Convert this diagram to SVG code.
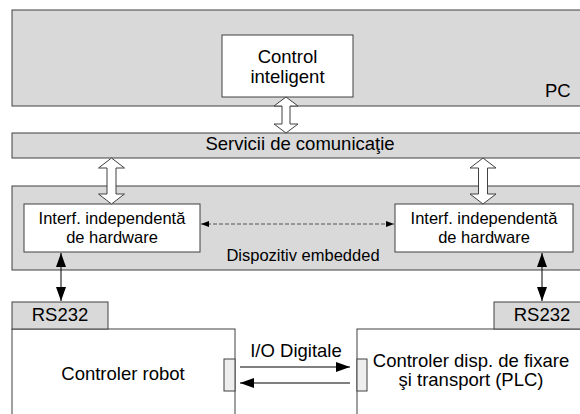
<svg xmlns="http://www.w3.org/2000/svg" width="580" height="414" viewBox="0 0 580 414">
<style>
text{font-family:"Liberation Sans",Arial,sans-serif;fill:#000}
.g{fill:#d9d9d9;stroke:#404040;stroke-width:1}
.w{fill:#fff;stroke:#404040;stroke-width:1}
.c{fill:#eeeeee;stroke:#404040;stroke-width:1}
.t{font-size:18.5px}
.s{font-size:16.5px}
.ln{stroke:#555;stroke-width:1.3;fill:none}
.bl{stroke:#000;stroke-width:1;fill:none}
.ha{fill:#fff;stroke:#404040;stroke-width:1}
</style>
<defs>
<marker id="ah" viewBox="0 0 8 6" refX="8" refY="3" markerWidth="8" markerHeight="6" markerUnits="userSpaceOnUse" orient="auto-start-reverse">
<path d="M0,0 L8,3 L0,6 z" fill="#000"/>
</marker>
<marker id="ahl" viewBox="0 0 14 10" refX="14" refY="5" markerWidth="14" markerHeight="10" markerUnits="userSpaceOnUse" orient="auto-start-reverse">
<path d="M0,0 L14,5 L0,10 z" fill="#000"/>
</marker>
</defs>
<g id="pc">
<rect class="g" x="12" y="10" width="580" height="96"/>
<text class="t" x="545" y="97">PC</text>
</g>
<g id="control">
<rect class="w" x="222" y="35" width="131" height="62"/>
<text class="t" x="287.5" y="62.5" text-anchor="middle">Control</text>
<text class="t" x="287.5" y="82.5" text-anchor="middle">inteligent</text>
</g>
<g id="servicii">
<rect class="g" x="12" y="133" width="580" height="25"/>
<text class="t" x="300" y="150" text-anchor="middle">Servicii de comunicaţie</text>
</g>
<g id="dispozitiv">
<rect class="g" x="12" y="186" width="580" height="84"/>
<text class="s" x="303" y="261" text-anchor="middle">Dispozitiv embedded</text>
</g>
<g id="interf-left">
<rect class="w" x="24" y="204" width="176" height="48"/>
<text class="s" x="112" y="224" text-anchor="middle">Interf. independentă</text>
<text class="s" x="112" y="243" text-anchor="middle">de hardware</text>
</g>
<g id="interf-right">
<rect class="w" x="395" y="204" width="178" height="48"/>
<text class="s" x="484" y="224" text-anchor="middle">Interf. independentă</text>
<text class="s" x="484" y="243" text-anchor="middle">de hardware</text>
</g>
<g id="robot">
<rect class="w" x="12" y="329" width="223" height="100"/>
<rect class="g" x="12" y="302" width="96" height="27"/>
<text class="t" x="60" y="321" text-anchor="middle">RS232</text>
<text class="t" x="123" y="380" text-anchor="middle">Controler robot</text>
<rect class="c" x="224" y="359" width="11" height="32"/>
</g>
<g id="plc">
<rect class="w" x="357" y="329" width="240" height="100"/>
<rect class="g" x="494" y="302" width="100" height="27"/>
<text class="t" x="542" y="321" text-anchor="middle">RS232</text>
<text class="t" x="471" y="367" text-anchor="middle">Controler disp. de fixare</text>
<text class="t" x="471" y="386" text-anchor="middle">şi transport (PLC)</text>
<rect class="c" x="357" y="359" width="10" height="32"/>
</g>
<g id="connectors">
<path class="ha" d="M286,97 L298,106 L290,106 L290,124 L298,124 L286,133 L274,124 L282,124 L282,106 L274,106 Z"/>
<path class="ha" d="M111.5,158 L124.5,168 L116,168 L116,194 L124.5,194 L111.5,204 L98.5,194 L107,194 L107,168 L98.5,168 Z"/>
<path class="ha" d="M483,158 L496,168 L487.5,168 L487.5,194 L496,194 L483,204 L470,194 L478.5,194 L478.5,168 L470,168 Z"/>
<line x1="201" y1="224" x2="394" y2="224" stroke="#555" stroke-width="1" stroke-dasharray="4,2" marker-start="url(#ah)" marker-end="url(#ah)"/>
<line class="bl" x1="61" y1="253" x2="61" y2="301" marker-start="url(#ahl)" marker-end="url(#ahl)"/>
<line class="bl" x1="542" y1="253" x2="542" y2="301" marker-start="url(#ahl)" marker-end="url(#ahl)"/>
<line class="ln" x1="240" y1="367" x2="350" y2="367" marker-end="url(#ahl)"/>
<line class="ln" x1="350" y1="383" x2="240" y2="383" marker-end="url(#ahl)"/>
<text class="t" x="296" y="357" text-anchor="middle">I/O Digitale</text>
</g>
</svg>
